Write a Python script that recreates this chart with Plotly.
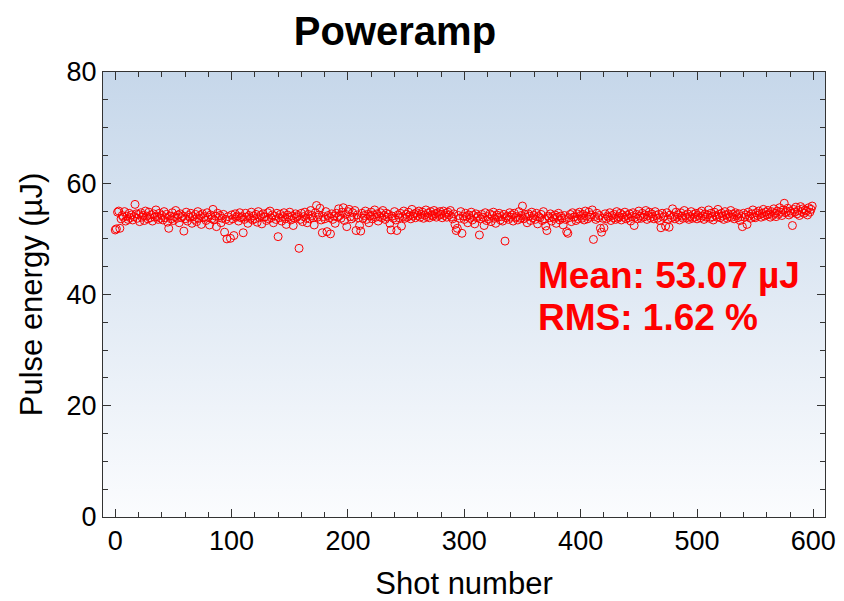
import base64
import plotly.graph_objects as go

title_text = "Poweramp"
x_label = "Shot number"
y_label = "Pulse energy (µJ)"
stats_lines = ["Mean: 53.07 µJ", "RMS: 1.62 %"]
x_ticks = [0, 100, 200, 300, 400, 500, 600]
y_ticks = [0, 20, 40, 60, 80]

energy = [
    51.6, 51.8, 54.8, 55.0, 51.9, 53.6, 54.2, 53.9, 54.9, 53.2, 54.1, 53.5, 54.6, 53.8, 54.3, 53.4, 54.0, 56.2, 54.5, 53.7,
    54.4, 53.1, 54.7, 53.9, 54.2, 53.3, 55.0, 54.1, 53.6, 54.8, 53.8, 54.3, 53.2, 54.5, 53.9, 55.2, 54.0, 53.5, 54.6, 53.7,
    54.2, 53.4, 54.9, 53.8, 54.4, 53.0, 51.9, 54.1, 53.6, 54.7, 53.3, 54.0, 55.1, 53.7, 54.3, 52.9, 54.5, 53.8, 54.1, 51.4,
    53.6, 54.8, 53.2, 54.2, 53.9, 54.6, 52.8, 54.0, 53.5, 54.4, 53.1, 54.9, 53.7, 54.2, 52.6, 54.5, 53.8, 54.0, 53.3, 54.7,
    53.9, 52.5, 54.3, 53.6, 55.3, 53.4, 54.1, 52.2, 54.6, 53.8, 54.2, 52.9, 53.7, 54.4, 51.2, 53.5, 50.0, 54.0, 53.3, 50.1,
    54.3, 53.6, 50.6, 54.5, 53.9, 54.1, 53.2, 54.7, 53.8, 54.0, 51.1, 53.5, 54.6, 53.9, 52.8, 54.2, 53.7, 54.8, 53.4, 54.1,
    53.6, 54.4, 53.0, 54.9, 53.8, 54.2, 52.7, 54.5, 53.9, 54.0, 53.3, 54.7, 53.6, 55.0, 53.8, 54.3, 52.9, 54.1, 53.5, 54.6,
    50.4, 53.8, 54.4, 53.2, 54.0, 54.7, 53.6, 52.6, 54.3, 53.9, 54.8, 53.4, 54.1, 52.4, 53.7, 54.5, 53.9, 54.2, 48.3, 53.5,
    54.6, 53.1, 54.0, 54.8, 53.7, 52.9, 54.4, 53.6, 55.1, 54.2, 53.8, 52.5, 54.7, 56.0, 53.9, 54.3, 55.5, 53.4, 51.1, 54.0,
    53.6, 54.9, 51.3, 54.2, 53.8, 50.9, 54.5, 53.5, 54.1, 52.8, 54.6, 53.9, 55.4, 54.2, 53.7, 54.8, 55.6, 53.3, 54.4, 52.2,
    54.9, 55.3, 54.0, 53.6, 54.7, 53.9, 55.1, 51.5, 54.3, 53.8, 52.4, 51.4, 54.6, 53.7, 54.2, 55.0, 53.5, 54.4, 52.9, 54.1,
    54.8, 53.6, 54.3, 55.2, 53.9, 54.5, 53.2, 54.0, 54.7, 53.8, 55.1, 54.2, 53.5, 54.6, 53.9, 54.4, 52.8, 51.6, 54.1, 53.7,
    54.9, 53.4, 51.5, 54.3, 53.8, 54.6, 52.3, 54.0, 55.0, 53.7, 54.4, 53.9, 54.8, 54.2, 53.6, 55.3, 54.1, 54.5, 53.8, 54.7,
    54.2, 55.0, 53.9, 54.4, 54.8, 53.7, 54.3, 55.2, 54.0, 54.6, 53.8, 54.9, 54.3, 54.1, 55.1, 54.5, 53.9, 54.7, 54.2, 54.9,
    54.4, 53.8, 55.0, 54.2, 54.6, 53.9, 54.8, 54.3, 55.1, 54.0, 53.6, 54.5, 52.6, 51.5, 51.9, 54.2, 53.7, 54.9, 51.0, 54.1,
    53.5, 54.6, 54.0, 52.9, 54.3, 53.7, 54.8, 53.4, 54.2, 52.7, 54.5, 53.8, 54.1, 50.7, 53.6, 54.4, 53.9, 52.4, 54.7, 53.3,
    54.0, 53.6, 54.5, 53.1, 54.2, 54.8, 53.7, 52.8, 54.3, 53.9, 54.6, 53.4, 54.0, 53.2, 54.4, 49.6, 53.8, 54.1, 53.5, 54.7,
    53.9, 54.3, 53.2, 54.6, 53.8, 54.0, 53.4, 54.9, 53.7, 54.2, 55.9, 53.6, 54.4, 53.9, 52.9, 54.5, 54.1, 53.3, 54.8, 53.8,
    54.2, 53.5, 54.6, 52.7, 54.0, 53.8, 54.4, 53.3, 54.9, 53.6, 52.3, 51.5, 54.1, 53.8, 54.5, 53.2, 54.0, 53.7, 54.3, 52.8,
    53.9, 54.6, 53.4, 54.1, 53.7, 52.5, 54.2, 53.5, 51.3, 51.0, 53.8, 54.4, 53.1, 54.7, 53.9, 54.0, 53.3, 54.5, 53.6, 54.8,
    54.2, 53.7, 54.4, 53.4, 55.0, 54.1, 53.6, 54.8, 53.9, 54.3, 55.2, 49.9, 54.0, 53.5, 54.6, 53.8, 54.2, 51.9, 51.2, 53.7,
    52.0, 54.5, 53.6, 54.1, 53.9, 54.7, 53.3, 54.2, 53.8, 54.4, 53.5, 54.9, 53.7, 54.0, 54.6, 53.4, 54.3, 53.9, 54.8, 53.6,
    54.2, 53.8, 54.5, 53.2, 54.0, 54.7, 52.4, 53.9, 54.4, 53.6, 55.0, 54.1, 53.7, 54.6, 53.9, 54.3, 55.1, 53.5, 54.2, 54.8,
    53.8, 54.5, 54.0, 53.6, 54.9, 54.2, 53.7, 54.4, 53.3, 52.0, 54.6, 53.9, 54.1, 52.3, 54.7, 53.5, 52.1, 54.3, 53.8, 55.4,
    54.0, 53.6, 54.8, 53.9, 54.3, 53.4, 54.7, 54.1, 53.7, 55.1, 54.2, 53.8, 54.5, 53.5, 54.0, 54.9, 53.7, 54.4, 53.9, 54.6,
    53.6, 54.2, 54.7, 53.8, 55.0, 54.1, 53.5, 54.5, 53.9, 54.3, 55.2, 53.7, 54.6, 54.0, 53.4, 54.8, 54.2, 53.9, 55.3, 54.4,
    53.8, 54.6, 54.1, 53.5, 54.9, 54.3, 53.7, 54.5, 54.0, 55.1, 53.9, 54.4, 53.6, 54.7, 54.2, 53.8, 54.5, 53.3, 54.0, 52.2,
    54.6, 53.9, 54.3, 52.6, 54.8, 54.1, 53.7, 54.5, 55.2, 54.0, 53.8, 54.7, 54.2, 55.0, 54.4, 53.9, 54.6, 55.3, 54.1, 54.8,
    54.3, 55.1, 54.5, 53.9, 54.9, 54.2, 55.4, 54.6, 54.0, 55.0, 54.4, 55.6, 54.8, 54.2, 55.2, 56.4, 54.7, 54.9, 55.5, 54.3,
    55.0, 54.6, 52.4, 55.3, 54.8, 55.7, 54.5, 55.1, 54.2, 55.8, 54.9, 55.4, 54.6, 55.2, 55.0, 54.3, 55.6, 54.8, 55.3, 55.9,
]
shots = list(range(len(energy)))

FONT = "Liberation Sans, Arial, Helvetica, sans-serif"
RED = "#ff0000"

svg = (
    '<svg xmlns="http://www.w3.org/2000/svg" width="100" height="100" preserveAspectRatio="none">'
    '<defs><linearGradient id="g" x1="0" y1="0" x2="0" y2="1">'
    '<stop offset="0" stop-color="#c6d7ea"/><stop offset="1" stop-color="#fbfcfe"/>'
    '</linearGradient></defs><rect width="100" height="100" fill="url(#g)"/></svg>'
)
bg_src = "data:image/svg+xml;base64," + base64.b64encode(svg.encode()).decode()

fig = go.Figure()
fig.add_trace(go.Scatter(
    x=shots, y=energy, mode="markers",
    marker=dict(symbol="circle-open", size=8, color=RED, line=dict(width=1, color=RED)),
    showlegend=False, hoverinfo="x+y",
))

fig.add_annotation(x=362, y=43.5, xref="x", yref="y", text="<b>" + stats_lines[0] + "</b>",
                   showarrow=False, xanchor="left", yanchor="middle",
                   font=dict(family=FONT, size=37, color=RED))
fig.add_annotation(x=362, y=35.8, xref="x", yref="y", text="<b>" + stats_lines[1] + "</b>",
                   showarrow=False, xanchor="left", yanchor="middle",
                   font=dict(family=FONT, size=37, color=RED))

axis_common = dict(
    showline=True, linecolor="#333333", linewidth=1, mirror="ticks",
    ticks="inside", ticklen=8, tickwidth=1, tickcolor="#333333",
    showgrid=False, zeroline=False, automargin=False,
    tickfont=dict(family=FONT, size=27, color="black"),
)

fig.update_xaxes(
    range=[-10.5, 610], tickvals=x_ticks, ticktext=[str(v) for v in x_ticks],
    minor=dict(dtick=20, tick0=0, ticks="inside", ticklen=5, tickcolor="#333333", showgrid=False),
    title=dict(text=x_label, font=dict(family=FONT, size=31, color="black"), standoff=16),
    **axis_common,
)
fig.update_yaxes(
    range=[0, 80], tickvals=y_ticks, ticktext=[str(v) for v in y_ticks],
    minor=dict(dtick=5, tick0=0, ticks="inside", ticklen=5, tickcolor="#333333", showgrid=False),
    title=dict(text=y_label, font=dict(family=FONT, size=31, color="black"), standoff=14),
    **axis_common,
)

fig.update_layout(
    width=844, height=601,
    margin=dict(l=103, r=19, t=72, b=84),
    paper_bgcolor="white", plot_bgcolor="rgba(0,0,0,0)",
    title=dict(text=title_text, x=0.468, xanchor="center", y=0.948, yanchor="middle",
               font=dict(family=FONT, size=40, color="black", weight="bold")),
    images=[dict(source=bg_src, xref="paper", yref="paper", x=0, y=1, sizex=1, sizey=1,
                 xanchor="left", yanchor="top", sizing="stretch", layer="below")],
)

fig.write_html("out.html")
